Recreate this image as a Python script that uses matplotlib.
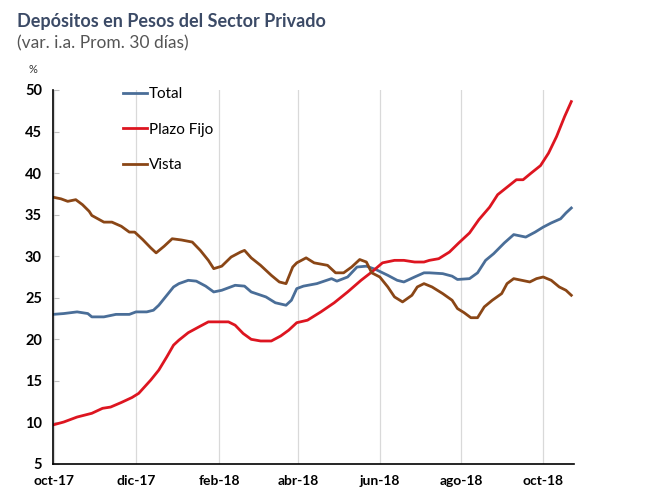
import matplotlib
matplotlib.use('Agg')
import matplotlib.pyplot as plt
import pandas as pd

plt.rcParams['font.family'] = ['Lato', 'DejaVu Sans']

# Total (azul)
total_dates = ['2017-09-30', '2017-10-08', '2017-10-18', '2017-10-26', '2017-10-29',
               '2017-11-07', '2017-11-16', '2017-11-26', '2017-12-01', '2017-12-09',
               '2017-12-14', '2017-12-18', '2017-12-23', '2017-12-29', '2018-01-02',
               '2018-01-09', '2018-01-15', '2018-01-22', '2018-01-28', '2018-02-03',
               '2018-02-13', '2018-02-20', '2018-02-25', '2018-03-08', '2018-03-15',
               '2018-03-23', '2018-03-27', '2018-03-31', '2018-04-05', '2018-04-15',
               '2018-04-26', '2018-04-30', '2018-05-08', '2018-05-15', '2018-05-22',
               '2018-05-29', '2018-06-07', '2018-06-14', '2018-06-19', '2018-06-27',
               '2018-07-04', '2018-07-08', '2018-07-18', '2018-07-25', '2018-07-29',
               '2018-08-07', '2018-08-13', '2018-08-19', '2018-08-25', '2018-09-02',
               '2018-09-09', '2018-09-18', '2018-09-25', '2018-10-01', '2018-10-07',
               '2018-10-14', '2018-10-18', '2018-10-22']
total_vals = [23.0, 23.1, 23.3, 23.1, 22.7,
              22.7, 23.0, 23.0, 23.3, 23.3,
              23.5, 24.1, 25.1, 26.3, 26.7,
              27.1, 27.0, 26.4, 25.7, 25.9,
              26.5, 26.4, 25.7, 25.1, 24.4,
              24.1, 24.7, 26.1, 26.4, 26.7,
              27.3, 27.0, 27.5, 28.7, 28.8,
              28.4, 27.7, 27.1, 26.9, 27.5,
              28.0, 28.0, 27.9, 27.6, 27.2,
              27.3, 28.0, 29.5, 30.3, 31.6,
              32.6, 32.3, 32.9, 33.5, 34.0,
              34.5, 35.2, 35.8]

# Plazo Fijo (rojo)
pf_dates = ['2017-09-30', '2017-10-08', '2017-10-18', '2017-10-29', '2017-11-06',
            '2017-11-12', '2017-11-20', '2017-11-28', '2017-12-03', '2017-12-12',
            '2017-12-18', '2017-12-24', '2017-12-29', '2018-01-02', '2018-01-09',
            '2018-01-17', '2018-01-24', '2018-02-01', '2018-02-08', '2018-02-13',
            '2018-02-19', '2018-02-25', '2018-03-04', '2018-03-12', '2018-03-19',
            '2018-03-25', '2018-03-31', '2018-04-08', '2018-04-18', '2018-04-28',
            '2018-05-08', '2018-05-18', '2018-05-26', '2018-06-03', '2018-06-12',
            '2018-06-19', '2018-06-27', '2018-07-04', '2018-07-08', '2018-07-15',
            '2018-07-23', '2018-07-30', '2018-08-07', '2018-08-14', '2018-08-22',
            '2018-08-28', '2018-09-04', '2018-09-11', '2018-09-16', '2018-09-22',
            '2018-09-29', '2018-10-05', '2018-10-11', '2018-10-17', '2018-10-22']
pf_vals = [9.7, 10.05, 10.65, 11.1, 11.7,
           11.85, 12.4, 13.0, 13.5, 15.1,
           16.3, 17.9, 19.3, 19.9, 20.8,
           21.5, 22.1, 22.1, 22.1, 21.7,
           20.7, 20.0, 19.8, 19.8, 20.4,
           21.1, 22.0, 22.3, 23.3, 24.4,
           25.7, 27.1, 28.1, 29.2, 29.5,
           29.5, 29.3, 29.3, 29.5, 29.7,
           30.5, 31.6, 32.8, 34.4, 35.9,
           37.4, 38.3, 39.2, 39.2, 40.0,
           40.9, 42.4, 44.4, 46.8, 48.6]

# Vista (marron)
vista_dates = ['2017-09-30', '2017-10-06', '2017-10-11', '2017-10-17', '2017-10-22',
               '2017-10-27', '2017-10-29', '2017-11-07', '2017-11-13', '2017-11-20',
               '2017-11-26', '2017-11-30', '2017-12-06', '2017-12-12', '2017-12-16',
               '2017-12-22', '2017-12-28', '2018-01-04', '2018-01-12', '2018-01-18',
               '2018-01-24', '2018-01-28', '2018-02-03', '2018-02-10', '2018-02-17',
               '2018-02-20', '2018-02-25', '2018-03-04', '2018-03-12', '2018-03-18',
               '2018-03-23', '2018-03-25', '2018-03-28', '2018-03-31', '2018-04-07',
               '2018-04-13', '2018-04-23', '2018-04-29', '2018-05-05', '2018-05-11',
               '2018-05-17', '2018-05-22', '2018-05-26', '2018-06-01', '2018-06-07',
               '2018-06-12', '2018-06-18', '2018-06-25', '2018-06-29', '2018-07-04',
               '2018-07-10', '2018-07-18', '2018-07-25', '2018-07-29', '2018-08-03',
               '2018-08-08', '2018-08-13', '2018-08-18', '2018-08-24', '2018-08-31',
               '2018-09-04', '2018-09-09', '2018-09-15', '2018-09-21', '2018-09-26',
               '2018-10-01', '2018-10-07', '2018-10-13', '2018-10-18', '2018-10-22']
vista_vals = [37.1, 36.9, 36.6, 36.8, 36.2,
              35.4, 34.9, 34.1, 34.1, 33.6,
              32.9, 32.9, 32.0, 31.0, 30.4,
              31.2, 32.1, 31.95, 31.7, 30.7,
              29.5, 28.5, 28.8, 29.9, 30.5,
              30.7, 29.8, 28.9, 27.7, 26.9,
              26.7, 27.5, 28.7, 29.2, 29.8,
              29.2, 28.9, 28.0, 28.0, 28.7,
              29.6, 29.3, 28.0, 27.5, 26.3,
              25.1, 24.5, 25.3, 26.3, 26.7,
              26.3, 25.5, 24.7, 23.7, 23.2,
              22.6, 22.6, 23.9, 24.7, 25.5,
              26.7, 27.3, 27.1, 26.9, 27.3,
              27.5, 27.1, 26.3, 25.9, 25.3]

tick_dates = ['2017-10-01', '2017-12-01', '2018-02-01', '2018-04-01',
              '2018-06-01', '2018-08-01', '2018-10-01']
tick_labels = ['oct-17', 'dic-17', 'feb-18', 'abr-18', 'jun-18', 'ago-18', 'oct-18']
y_ticks = [5, 10, 15, 20, 25, 30, 35, 40, 45, 50]

fig = plt.figure(figsize=(6.51, 4.97), dpi=100)
ax = fig.add_axes([0.0814, 0.0664, 0.8003, 0.7526])

ax.plot(pd.to_datetime(total_dates), total_vals, color='#4A6E98', lw=2.0, label='Total')
ax.plot(pd.to_datetime(pf_dates), pf_vals, color='#DD1520', lw=2.0, label='Plazo Fijo')
ax.plot(pd.to_datetime(vista_dates), vista_vals, color='#8A4616', lw=2.0, label='Vista')

ax.set_xlim(pd.Timestamp('2017-09-30'), pd.Timestamp('2018-10-24'))
ax.set_ylim(5, 50)
ax.set_yticks(y_ticks)
ax.set_xticks(pd.to_datetime(tick_dates))
ax.set_xticklabels(tick_labels)

ax.grid(axis='x', color='#D9D9D9', lw=0.9)
ax.set_axisbelow(True)
for s in ['top', 'right']:
    ax.spines[s].set_visible(False)
ax.spines['left'].set_linewidth(1.2)
ax.spines['bottom'].set_linewidth(1.2)
ax.tick_params(axis='y', direction='in', length=4, color='#BFBFBF', labelsize=10.5, pad=8)
ax.tick_params(axis='x', length=0, labelsize=10, pad=8)
for lab in ax.get_xticklabels() + ax.get_yticklabels():
    lab.set_fontweight('bold')

ax.legend(loc='upper left', bbox_to_anchor=(0.108, 1.045), frameon=False, fontsize=11,
          handlelength=1.6, handletextpad=0.1, labelspacing=1.42)

fig.text(0.026, 0.957, 'Depósitos en Pesos del Sector Privado', fontsize=13,
         fontweight='bold', color='#3B4A66', va='center')
fig.text(0.026, 0.912, '(var. i.a. Prom. 30 días)', fontsize=12.5, color='#555555',
         va='center')
fig.text(0.05, 0.86, '%', fontsize=8, color='#333333', va='center', ha='center')

plt.savefig('out.png', dpi=100)
